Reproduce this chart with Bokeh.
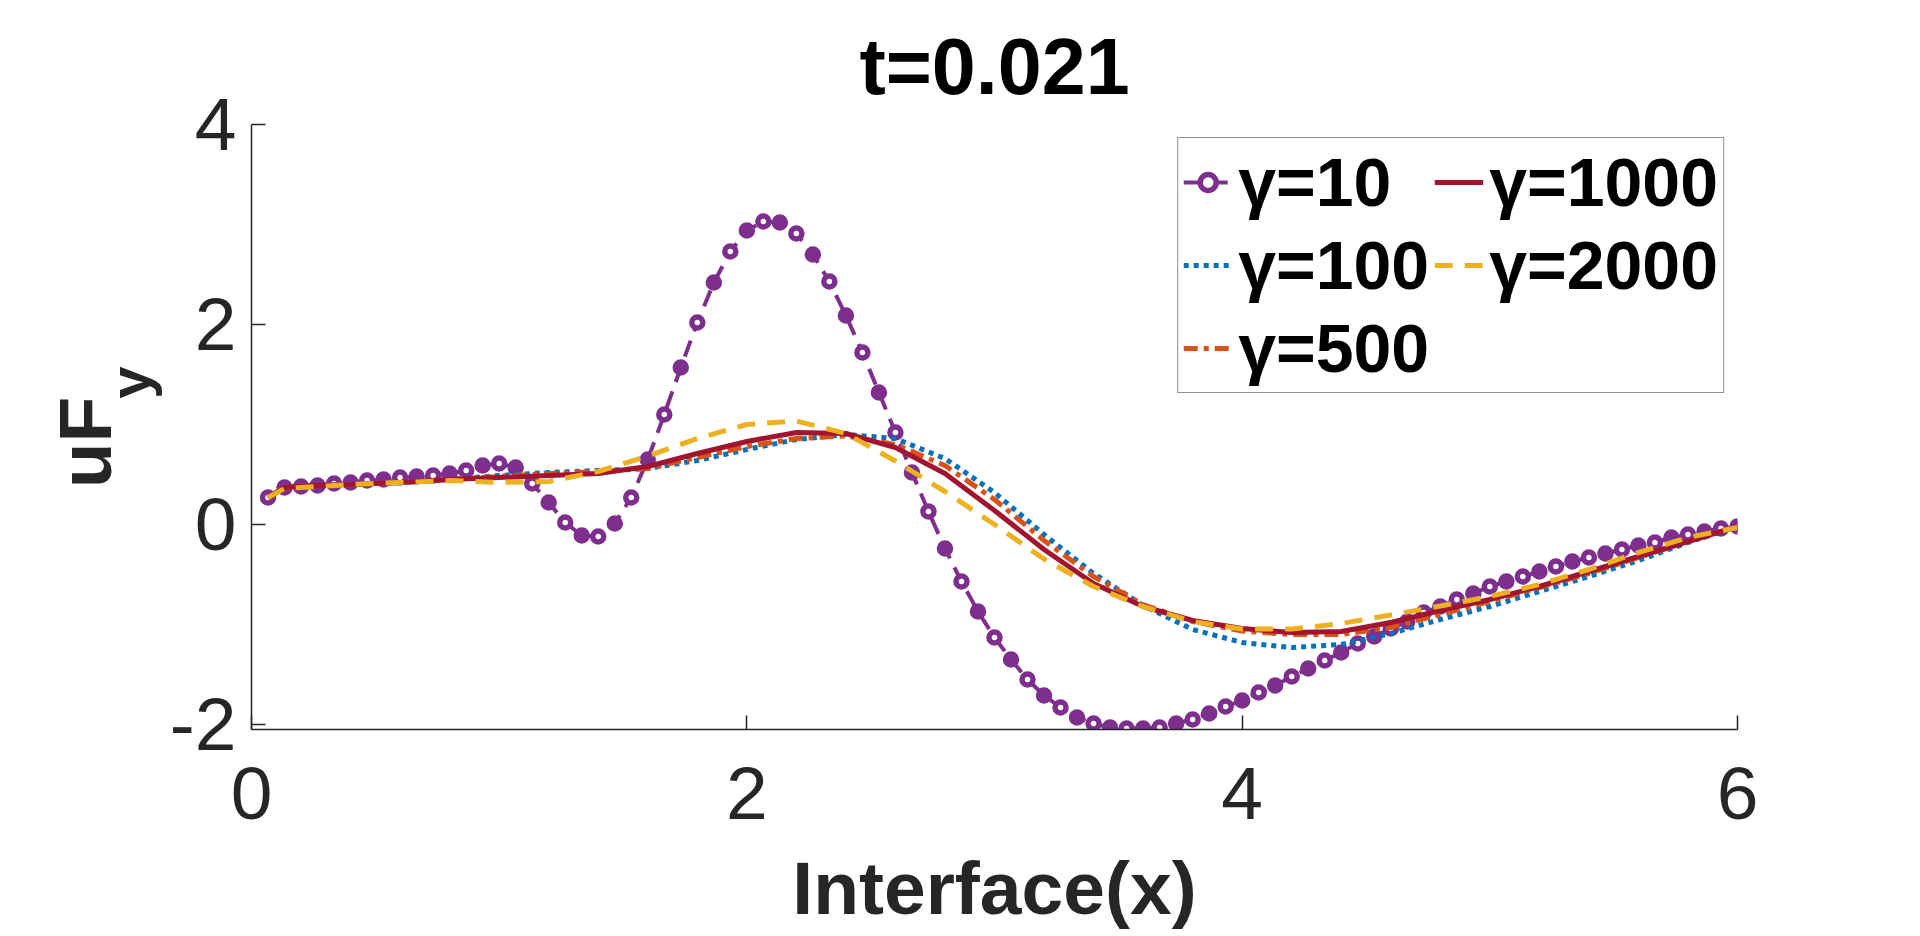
import math
from bokeh.plotting import figure
from bokeh.models import Legend, LegendItem, FixedTicker, LinearAxis
from bokeh.embed import file_html
from bokeh.resources import INLINE

# ---------------- data ----------------
x10 = [0.0667, 0.1333, 0.2, 0.2667, 0.3333, 0.4, 0.4667, 0.5333, 0.6, 0.6667,
       0.7333, 0.8, 0.8667, 0.9333, 1.0, 1.0667, 1.1333, 1.2, 1.2667, 1.3333,
       1.4, 1.4667, 1.5333, 1.6, 1.6667, 1.7333, 1.8, 1.8667, 1.9333, 2.0,
       2.0667, 2.1333, 2.2, 2.2667, 2.3333, 2.4, 2.4667, 2.5333, 2.6, 2.6667,
       2.7333, 2.8, 2.8667, 2.9333, 3.0, 3.0667, 3.1333, 3.2, 3.2667, 3.3333,
       3.4, 3.4667, 3.5333, 3.6, 3.6667, 3.7333, 3.8, 3.8667, 3.9333, 4.0,
       4.0667, 4.1333, 4.2, 4.2667, 4.3333, 4.4, 4.4667, 4.5333, 4.6, 4.6667,
       4.7333, 4.8, 4.8667, 4.9333, 5.0, 5.0667, 5.1333, 5.2, 5.2667, 5.3333,
       5.4, 5.4667, 5.5333, 5.6, 5.6667, 5.7333, 5.8, 5.8667, 5.9333, 6.0]
g10 = [0.27, 0.37, 0.38, 0.39, 0.41, 0.42, 0.44, 0.45, 0.47, 0.48,
       0.49, 0.51, 0.54, 0.59, 0.61, 0.57, 0.41, 0.22, 0.02, -0.11,
       -0.12, 0.01, 0.27, 0.65, 1.10, 1.57, 2.02, 2.42, 2.73, 2.94,
       3.03, 3.02, 2.91, 2.70, 2.43, 2.09, 1.72, 1.32, 0.92, 0.52,
       0.13, -0.24, -0.57, -0.87, -1.13, -1.35, -1.55, -1.71, -1.83, -1.93,
       -1.99, -2.03, -2.04, -2.04, -2.03, -1.99, -1.95, -1.89, -1.82, -1.76,
       -1.68, -1.61, -1.52, -1.44, -1.36, -1.28, -1.19, -1.12, -1.04, -0.97,
       -0.88, -0.82, -0.75, -0.69, -0.62, -0.57, -0.52, -0.47, -0.42, -0.37,
       -0.33, -0.29, -0.25, -0.21, -0.18, -0.13, -0.10, -0.07, -0.04, -0.02]

xs = [0.0667, 0.1333, 0.2, 0.4, 0.6, 0.8, 1.0, 1.2, 1.4, 1.6, 1.8, 2.0, 2.2, 2.4,
      2.6, 2.8, 3.0, 3.2, 3.4, 3.6, 3.8, 4.0, 4.2, 4.4, 4.6, 4.8, 5.0, 5.2, 5.4,
      5.6, 5.8, 6.0]
g100 = [0.27, 0.37, 0.385, 0.40, 0.42, 0.45, 0.49, 0.52, 0.54, 0.56, 0.64, 0.75,
        0.85, 0.90, 0.86, 0.66, 0.32, -0.10, -0.49, -0.81, -1.05, -1.18, -1.23,
        -1.20, -1.09, -0.95, -0.82, -0.67, -0.52, -0.36, -0.18, -0.02]
g500 = [0.27, 0.37, 0.385, 0.40, 0.42, 0.45, 0.48, 0.51, 0.53, 0.56, 0.67, 0.78,
        0.86, 0.885, 0.80, 0.59, 0.25, -0.16, -0.52, -0.80, -0.97, -1.065, -1.10,
        -1.10, -1.03, -0.90, -0.77, -0.63, -0.49, -0.33, -0.17, -0.02]
g1000 = [0.27, 0.37, 0.385, 0.40, 0.42, 0.45, 0.47, 0.49, 0.51, 0.58, 0.71, 0.83,
         0.92, 0.91, 0.77, 0.51, 0.14, -0.25, -0.59, -0.82, -0.96, -1.04, -1.08,
         -1.07, -0.98, -0.86, -0.75, -0.62, -0.47, -0.32, -0.17, -0.02]
g2000 = [0.27, 0.36, 0.37, 0.40, 0.42, 0.44, 0.42, 0.43, 0.53, 0.685, 0.86, 1.00,
         1.035, 0.91, 0.635, 0.33, 0.00, -0.345, -0.62, -0.82, -0.97, -1.045, -1.045,
         -0.99, -0.905, -0.815, -0.72, -0.60, -0.45, -0.28, -0.13, -0.03]

series_labels = ["γ=10", "γ=100", "γ=500", "γ=1000", "γ=2000"]
x_ticks = [0, 2, 4, 6]
x_tick_labels = ["0", "2", "4", "6"]
y_ticks = [-2, 0, 2, 4]
y_tick_labels = ["-2", "0", "2", "4"]
title_text = "t=0.021"
x_label = "Interface(x)"
y_label_main = "uF"
y_label_sub = "y"

# ---------------- styles ----------------
PURPLE = "#7E2F8E"
BLUE = "#0072BD"
ORANGE = "#D95319"
RED = "#A2142F"
YELLOW = "#EDB120"
AX = "#262626"
FONT = "Liberation Sans"
W, H = 1920, 936

p = figure(width=W, height=H, x_range=(0, 6), y_range=(-2.05, 4),
           output_backend="svg", toolbar_location=None,
           min_border_left=251, min_border_right=183,
           min_border_top=124, min_border_bottom=207)
p.outline_line_color = None
p.grid.visible = False
p.background_fill_color = "white"
p.border_fill_color = "white"

# title
p.title.text = title_text
p.title.align = "center"
p.title.vertical_align = "bottom"
p.title.text_font = FONT
p.title.text_font_style = "bold"
p.title.text_font_size = "79px"
p.title.text_color = "black"
p.title.standoff = 28

# main axes
xax = p.xaxis[0]
yax = p.yaxis[0]
for ax in (xax, yax):
    ax.axis_line_color = AX
    ax.axis_line_width = 1.5
    ax.major_tick_line_color = AX
    ax.major_tick_line_width = 1.5
    ax.major_tick_in = 14
    ax.major_tick_out = 0
    ax.minor_tick_line_color = None
    ax.major_label_text_font = FONT
    ax.major_label_text_font_size = "75px"
    ax.major_label_text_color = AX
xax.ticker = FixedTicker(ticks=x_ticks)
yax.ticker = FixedTicker(ticks=y_ticks)
xax.major_label_overrides = {t: s for t, s in zip(x_ticks, x_tick_labels)}
yax.major_label_overrides = {t: s for t, s in zip(y_ticks, y_tick_labels)}
xax.major_label_standoff = 38
yax.major_label_standoff = 15

# x label
xax.axis_label = x_label
xax.axis_label_standoff = 24
xax.axis_label_text_font = FONT
xax.axis_label_text_font_style = "bold"
xax.axis_label_text_font_size = "75px"
xax.axis_label_text_color = AX


def label_axis(text, pos, size, standoff):
    """An extra left axis that carries one rotated text (part of the y label)."""
    ax = LinearAxis(ticker=FixedTicker(ticks=[pos]),
                    major_label_overrides={pos: text},
                    major_label_orientation="vertical",
                    major_label_standoff=standoff,
                    major_label_text_font=FONT,
                    major_label_text_font_style="bold",
                    major_label_text_font_size=size,
                    major_label_text_color=AX,
                    axis_line_color=None,
                    major_tick_line_color=None,
                    minor_tick_line_color=None,
                    major_tick_in=0, major_tick_out=0,
                    minor_tick_in=0, minor_tick_out=0)
    return ax


# y label "uF" with subscript "y": two text-only axes stacked left of the y axis
p.add_layout(label_axis(y_label_sub, 1.42, "58px", 5), "left")
p.add_layout(label_axis(y_label_main, 0.82, "75px", -33), "left")

# series
LW = 5
l10 = p.line(x10, g10, line_color=PURPLE, line_width=4, line_dash="17 10")
s10o = p.scatter(x10[0::2], g10[0::2], marker="circle", size=11, line_color=PURPLE,
                 line_width=5.5, fill_color="white")
s10f = p.scatter(x10[1::2], g10[1::2], marker="circle", size=11, line_color=PURPLE,
                 line_width=5.5, fill_color=PURPLE)
l100 = p.line(xs, g100, line_color=BLUE, line_width=LW, line_dash="5 5")
l500 = p.line(xs, g500, line_color=ORANGE, line_width=LW, line_dash="14 6 5 6")
l1000 = p.line(xs, g1000, line_color=RED, line_width=LW)
l2000 = p.line(xs, g2000, line_color=YELLOW, line_width=LW, line_dash="18 12")

legend = Legend(items=[
    LegendItem(label=series_labels[0], renderers=[l10, s10o]),
    LegendItem(label=series_labels[1], renderers=[l100]),
    LegendItem(label=series_labels[2], renderers=[l500]),
    LegendItem(label=series_labels[3], renderers=[l1000]),
    LegendItem(label=series_labels[4], renderers=[l2000]),
], location="top_right", orientation="vertical", ncols=2)
legend.label_text_font = FONT
legend.label_text_font_style = "bold"
legend.label_text_font_size = "68px"
legend.label_text_color = "black"
legend.glyph_width = 49
legend.glyph_height = 40
legend.label_standoff = 6
legend.padding = 5
legend.spacing = 5
legend.margin = 13
legend.border_line_color = AX
legend.border_line_width = 1.5
legend.background_fill_color = "white"
legend.background_fill_alpha = 1.0
p.add_layout(legend, "center")

open("out.html", "w").write(file_html(p, INLINE))
